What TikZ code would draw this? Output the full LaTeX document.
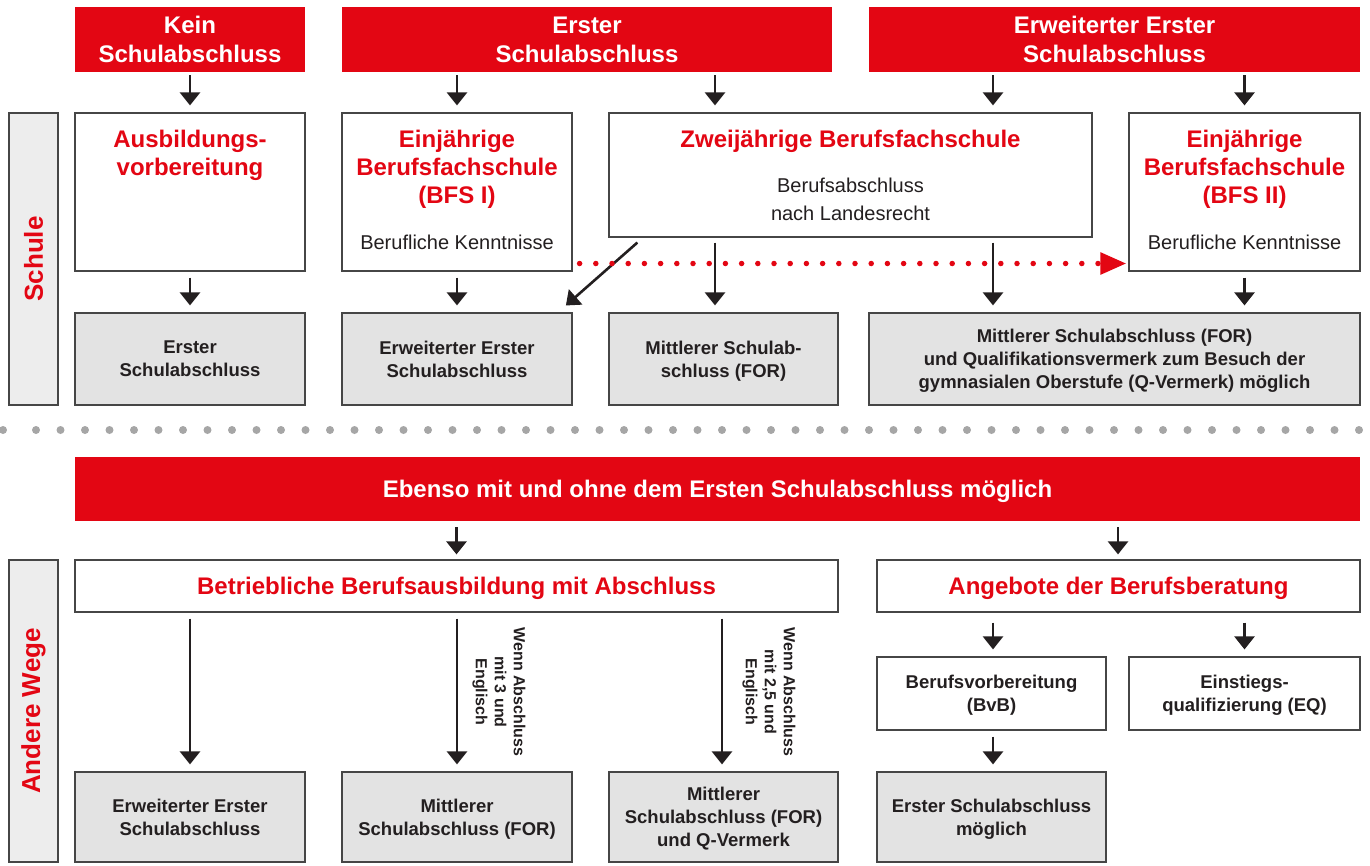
\documentclass[tikz,border=0pt]{standalone}
\usepackage{fontspec}
\setmainfont{Liberation Sans}
\usetikzlibrary{arrows.meta,calc}
\definecolor{myred}{RGB}{227,6,19}
\definecolor{resgray}{RGB}{227,227,227}
\definecolor{sidegray}{RGB}{237,237,237}
\definecolor{bordercol}{RGB}{70,70,70}
\definecolor{darktext}{RGB}{35,31,32}
\definecolor{sepgray}{RGB}{166,166,166}
\begin{document}
\begin{tikzpicture}[x=1pt,y=-1pt,
  hdr/.style={rectangle,fill=myred,text=white,font=\fontsize{24}{29}\selectfont\bfseries,align=center,inner sep=0pt,text depth=0pt},
  wbox/.style={rectangle,draw=bordercol,fill=white,line width=1.2pt,inner sep=0pt},
  gbox/.style={rectangle,draw=bordercol,fill=resgray,line width=1.2pt,inner sep=0pt,align=center,text=darktext,font=\fontsize{18.5}{23}\selectfont\bfseries,text depth=0pt},
  sidebox/.style={rectangle,draw=bordercol,fill=sidegray,line width=1.2pt,inner sep=0pt},
  ttl/.style={text=myred,font=\fontsize{24}{28}\selectfont\bfseries,align=center,inner sep=0pt,yshift=-2.5pt},
  subtxt/.style={text=darktext,font=\fontsize{20}{28}\selectfont,align=center,inner sep=0pt,yshift=-1pt},
  rotlbl/.style={text=darktext,font=\fontsize{16}{19}\selectfont\bfseries,align=center,inner sep=0pt},
  sidelbl/.style={text=myred,font=\fontsize{26}{30}\selectfont\bfseries,inner sep=0pt},
  arr/.style={draw=darktext,line width=2.6pt,-{Triangle[width=20pt,length=13pt]},shorten <=6pt,shorten >=7pt},
  dotarr/.style={draw=myred,line width=5.5pt,line cap=round,dash pattern=on 0pt off 16.2pt,-{Triangle[width=21pt,length=26pt]}}
]
\useasboundingbox (0,0) rectangle (1370,865);

% headers
\node[hdr,minimum width=230pt,minimum height=65pt] (h1) at (190,39.5) {Kein\\Schulabschluss};
\node[hdr,minimum width=490pt,minimum height=65pt] (h2) at (587,39.5) {Erster\\Schulabschluss};
\node[hdr,minimum width=491pt,minimum height=65pt] (h3) at (1114.5,39.5) {Erweiterter Erster\\Schulabschluss};

% side boxes
\node[sidebox,minimum width=49pt,minimum height=292pt] (s1) at (33.5,259) {};
\node[sidelbl,rotate=90] (s1t) at (s1.center) {Schule};
\node[sidebox,minimum width=49pt,minimum height=302pt] (s2) at (33.5,711) {};
\node[sidelbl,rotate=90] (s2t) at (s2.center) {Andere Wege};

% row 1
\node[wbox,minimum width=230pt,minimum height=158pt] (A1) at (190,192) {};
\node[wbox,minimum width=230pt,minimum height=158pt] (A2) at (457,192) {};
\node[wbox,minimum width=483pt,minimum height=124pt] (A3) at (850.5,175) {};
\node[wbox,minimum width=231pt,minimum height=158pt] (A4) at (1244.5,192) {};

\node[ttl] (A1t) at ($(A1.north)+(0,40)$) {Ausbildungs-\\vorbereitung};
\node[ttl] (A2t) at ($(A2.north)+(0,54.5)$) {Einjährige\\Berufsfachschule\\(BFS I)};
\node[subtxt] (A2s) at ($(A2.north)+(0,129)$) {Berufliche Kenntnisse};
\node[ttl] (A3t) at ($(A3.north)+(0,26)$) {Zweijährige Berufsfachschule};
\node[subtxt] (A3s) at ($(A3.north)+(0,86)$) {Berufsabschluss\\nach Landesrecht};
\node[ttl] (A4t) at ($(A4.north)+(0,54.5)$) {Einjährige\\Berufsfachschule\\(BFS II)};
\node[subtxt] (A4s) at ($(A4.north)+(0,129)$) {Berufliche Kenntnisse};

% row 2
\node[gbox,minimum width=230pt,minimum height=92pt] (B1) at (190,359) {Erster\\Schulabschluss};
\node[gbox,minimum width=230pt,minimum height=92pt] (B2) at (457,359) {Erweiterter Erster\\Schulabschluss};
\node[gbox,minimum width=229pt,minimum height=92pt] (B3) at (723.5,359) {Mittlerer Schulab-\\schluss (FOR)};
\node[gbox,minimum width=491pt,minimum height=92pt] (B4) at (1114.5,359) {Mittlerer Schulabschluss (FOR)\\und Qualifikationsvermerk zum Besuch der\\gymnasialen Oberstufe (Q-Vermerk) möglich};

% x positions of connectors
\coordinate (x715) at (715,0);
\coordinate (x993) at (993,0);
\coordinate (x1118) at (1118,0);
\coordinate (x722) at (722,0);
\coordinate (xd1) at (643,0);
\coordinate (xd2) at (558,0);
\coordinate (ydot) at (0,263.5);

% arrows header -> row 1
\draw[arr,shorten <=3pt] (h1.south) -- (A1.north);
\draw[arr,shorten <=3pt] (h2.south -| A2.north) -- (A2.north);
\draw[arr,shorten <=3pt] (h2.south -| x715) -- (A3.north -| x715);
\draw[arr,shorten <=3pt] (h3.south -| x993) -- (A3.north -| x993);
\draw[arr,shorten <=3pt] (h3.south -| A4.north) -- (A4.north);

% arrows row 1 -> row 2
\draw[arr] (A1.south) -- (B1.north);
\draw[arr] (A2.south) -- (B2.north);
\draw[arr,shorten <=5pt] (A3.south -| x715) -- (B3.north -| x715);
\draw[arr,shorten <=5pt] (A3.south -| x993) -- (B4.north -| x993);
\draw[arr] (A4.south) -- (B4.north -| A4.south);
\draw[arr,shorten <=7.5pt,shorten >=10.5pt] (A3.south -| xd1) -- (B2.north -| xd2);
\draw[dotarr,shorten <=7pt,shorten >=2pt] (A2.east |- ydot) -- (A4.west |- ydot);

% separator
\fill[sepgray] (3,430) circle (4);
\foreach \i in {0,...,54} \fill[sepgray] (36+\i*24.5,430) circle (4);

% banner
\node[hdr,minimum width=1285pt,minimum height=64pt] (ban) at (717.5,489) {Ebenso mit und ohne dem Ersten Schulabschluss möglich};

% row 3
\node[wbox,minimum width=763pt,minimum height=52pt] (C1) at (456.5,586) {};
\node[ttl] (C1t) at (C1.center) {Betriebliche Berufsausbildung mit Abschluss};
\node[wbox,minimum width=483pt,minimum height=52pt] (C2) at (1118.5,586) {};
\node[ttl] (C2t) at (C2.center) {Angebote der Berufsberatung};

\draw[arr,shorten >=5pt] (ban.south -| C1.north) -- (C1.north);
\draw[arr,shorten >=5pt] (ban.south -| x1118) -- (C2.north -| x1118);

% offers
\node[wbox,minimum width=229pt,minimum height=73pt,align=center,text=darktext,font=\fontsize{18.5}{23}\selectfont\bfseries,text depth=0pt] (D1) at (991.5,693.5) {Berufsvorbereitung\\(BvB)};
\node[wbox,minimum width=231pt,minimum height=73pt,align=center,text=darktext,font=\fontsize{18.5}{23}\selectfont\bfseries,text depth=0pt] (D2) at (1244.5,693.5) {Einstiegs-\\qualifizierung (EQ)};
\draw[arr,shorten <=10pt] (C2.south -| x993) -- (D1.north -| x993);
\draw[arr,shorten <=10pt] (C2.south -| D2.north) -- (D2.north);

% bottom row
\node[gbox,minimum width=230pt,minimum height=90pt] (E1) at (190,817) {Erweiterter Erster\\Schulabschluss};
\node[gbox,minimum width=230pt,minimum height=90pt] (E2) at (457,817) {Mittlerer\\Schulabschluss (FOR)};
\node[gbox,minimum width=229pt,minimum height=90pt] (E3) at (723.5,817) {Mittlerer\\Schulabschluss (FOR)\\und Q-Vermerk};
\node[gbox,minimum width=229pt,minimum height=90pt] (E4) at (991.5,817) {Erster Schulabschluss\\möglich};

\draw[arr] (C1.south -| E1.north) -- (E1.north);
\draw[arr] (C1.south -| E2.north) -- (E2.north);
\draw[arr] (C1.south -| x722) -- (E3.north -| x722);
\draw[arr] (D1.south -| x993) -- (E4.north -| x993);

\node[rotlbl,rotate=-90] (l1) at (499,692) {Wenn Abschluss\\mit 3 und\\Englisch};
\node[rotlbl,rotate=-90] (l2) at (769,692) {Wenn Abschluss\\mit 2,5 und\\Englisch};
\end{tikzpicture}
\end{document}
